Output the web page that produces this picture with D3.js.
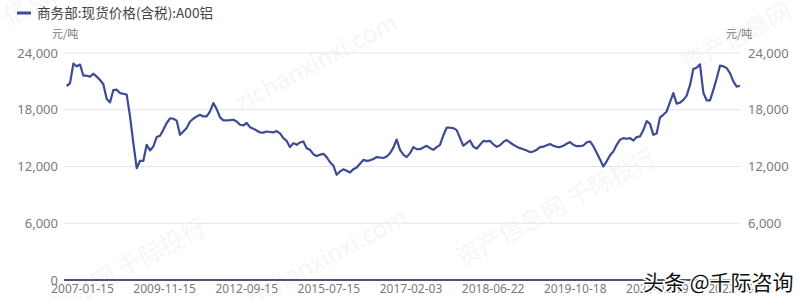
<!DOCTYPE html>
<html>
<head>
<meta charset="utf-8">
<script src="https://cdn.jsdelivr.net/npm/d3@7"></script>
<style>
  body { margin: 0; background: #fff; }
  svg { display: block; font-family: "Noto Sans CJK SC", "Noto Sans", sans-serif; }
</style>
</head>
<body>
<svg id="chart" width="800" height="299"></svg>
<script>
// price of A00 aluminium, yuan/ton left to right
var pricesA = [20500, 20820, 22870, 22590, 22780, 21600, 21600, 21500, 21810, 21500,
  21150, 20700, 19130, 18780, 20080, 20120, 19760, 19690, 19600, 17300,
  14470, 11820, 12600, 12600, 14290, 13700, 14120, 15110, 15250, 15880,
  16600, 17100, 17050, 16850, 15350, 15700, 16060, 16760, 17050, 17290,
  17470, 17290, 17290, 17820, 18700, 18070, 17190, 16870, 16870, 16900,
  16940, 16760, 16410, 16340, 16600, 16160, 16000, 15800, 15600, 15580,
  15700, 15650, 15600, 15750, 15500, 15000, 14700, 14050, 14470, 14290,
  14540, 14650, 13940, 13760, 13300, 13100, 13250, 13340, 12990, 12450,
  12100, 11120, 11470, 11700, 11550, 11370, 11720, 11900, 12300, 12700,
  12600, 12650, 12800, 13000, 12950, 12900, 13050, 13400, 14000, 14850,
  13760];
var pricesB = [13250, 12990, 13410, 14050, 13830, 13830, 14010, 14190, 13940, 13760,
  14050, 14290, 15300, 16100, 16100, 16060, 15850, 15000, 14200, 14470,
  14750, 14100, 13880, 14300, 14700, 14650, 14700, 14350, 14080, 14250,
  14600, 14800, 14540, 14300, 14100, 13940, 13820, 13700, 13520, 13590,
  13760, 14050, 14100, 14250, 14370, 14200, 14080, 14050, 14200, 14400,
  14580, 14290, 14150, 14150, 14220, 14550, 14650, 14150, 13450, 12750,
  12000, 12550, 13200, 13590, 14290, 14820, 15000, 14930, 15000, 14750,
  15110, 15180, 15850, 16800, 16500, 15350, 15500, 17200, 17470, 17820,
  18800, 19760, 18650, 18750, 19050, 19500, 20600, 22300, 22450, 22800,
  19800, 19000, 18990, 20100, 21300, 22660, 22590, 22400, 21880, 21000,
  20450, 20540];
var prices = pricesA.concat(pricesB);

var dateLabels = ["2007-01-15", "2009-11-15", "2012-09-15", "2015-07-15", "2017-02-03",
  "2018-06-22", "2019-10-18", "2021-02-19", "2022-06-10"];
var yTicks = [0, 6000, 12000, 18000, 24000];

var seriesName = "商务部:现货价格(含税):A00铝";
var unitText = "元/吨";
var lineColor = "#3e4a94";

var svg = d3.select("#chart");

var x = d3.scaleLinear().domain([0, prices.length - 1]).range([66.7, 740]);
var y = d3.scaleLinear().domain([0, 24000]).range([280, 53]);
var xLabels = d3.scalePoint().domain(dateLabels).range([82, 739]);

// faint diagonal watermarks
var marks = [
  {t: "资产信息网 千际投行", x: 110, y: 285},
  {t: "资产信息网 千际投行", x: 560, y: 215},
  {t: "zichanxinxi.com", x: 320, y: 70},
  {t: "zichanxinxi.com", x: 330, y: 265},
  {t: "资产信息网", x: 740, y: 45},
  {t: "资产信息网", x: 20, y: 20}
];
svg.selectAll(".wm")
  .data(marks)
  .enter().append("text")
  .attr("class", "wm")
  .attr("transform", d => "translate(" + d.x + "," + d.y + ") rotate(-28)")
  .attr("text-anchor", "middle")
  .attr("font-size", 24)
  .attr("fill", "#000")
  .attr("opacity", 0.035)
  .text(d => d.t);

// gridlines
svg.selectAll(".grid")
  .data(yTicks.slice(1))
  .enter().append("line")
  .attr("x1", 64).attr("x2", 740)
  .attr("y1", d => y(d)).attr("y2", d => y(d))
  .attr("stroke", "#e6e6e6")
  .attr("stroke-width", 1);

// left axis
var leftAxis = svg.append("g")
  .attr("transform", "translate(58,0)")
  .call(d3.axisLeft(y).tickValues(yTicks).tickSize(0).tickPadding(0).tickFormat(d3.format(",")));
leftAxis.select(".domain").remove();
leftAxis.selectAll("text").attr("font-size", 13).attr("fill", "#7a7a7a")
  .attr("font-family", "'Noto Sans', sans-serif");

// right axis
var rightAxis = svg.append("g")
  .attr("transform", "translate(748,0)")
  .call(d3.axisRight(y).tickValues(yTicks.slice(1)).tickSize(0).tickPadding(0).tickFormat(d3.format(",")));
rightAxis.select(".domain").remove();
rightAxis.selectAll("text").attr("font-size", 13).attr("fill", "#7a7a7a")
  .attr("font-family", "'Noto Sans', sans-serif");

// bottom axis line and date labels
svg.append("line")
  .attr("x1", 64).attr("x2", 740)
  .attr("y1", y(0)).attr("y2", y(0))
  .attr("stroke", "#4e5470")
  .attr("stroke-width", 2);

var bottomAxis = svg.append("g")
  .attr("transform", "translate(0," + (y(0) + 4) + ")")
  .call(d3.axisBottom(xLabels).tickSize(0).tickPadding(0));
bottomAxis.select(".domain").remove();
bottomAxis.selectAll("text").attr("font-size", 12).attr("fill", "#7a7a7a")
  .attr("font-family", "'Noto Sans', sans-serif");

// price line
var line = d3.line()
  .x((d, i) => x(i))
  .y(d => y(d));

svg.append("path")
  .datum(prices)
  .attr("d", line)
  .attr("fill", "none")
  .attr("stroke", lineColor)
  .attr("stroke-width", 2.2)
  .attr("stroke-linejoin", "round");

// legend
svg.append("line")
  .attr("x1", 17).attr("x2", 31)
  .attr("y1", 13).attr("y2", 13)
  .attr("stroke", lineColor)
  .attr("stroke-width", 3);
svg.append("text")
  .attr("x", 37).attr("y", 18)
  .attr("font-size", 13.6)
  .attr("fill", "#444")
  .text(seriesName);

// unit labels
svg.append("text")
  .attr("x", 52).attr("y", 38)
  .attr("font-size", 11)
  .attr("fill", "#7a7a7a")
  .text(unitText);
svg.append("text")
  .attr("x", 726).attr("y", 38)
  .attr("font-size", 11)
  .attr("fill", "#7a7a7a")
  .text(unitText);

// source stamp
svg.append("text")
  .attr("x", 643).attr("y", 290)
  .attr("font-size", 21)
  .attr("fill", "#111")
  .attr("stroke", "#fff")
  .attr("stroke-width", 3)
  .attr("paint-order", "stroke")
  .text("头条 @千际咨询");
</script>
</body>
</html>
